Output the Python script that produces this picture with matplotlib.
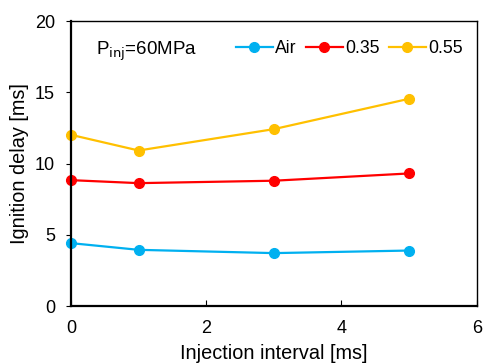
import matplotlib
matplotlib.use('Agg')
import matplotlib.pyplot as plt

plt.rcParams['font.family'] = ['Liberation Sans', 'DejaVu Sans']

# data
interval = [0, 1, 3, 5]
labels = ['Air', '0.35', '0.55']
air = [4.42, 3.95, 3.72, 3.9]
o35 = [8.84, 8.63, 8.8, 9.31]
o55 = [12.02, 10.92, 12.42, 14.55]
colors = ['#00B0F0', '#FF0000', '#FFC000']

fig = plt.figure(figsize=(4.83, 3.64), dpi=100)
ax = fig.add_axes([0.147, 0.159, 0.840, 0.783])

for y, lab, c in zip([air, o35, o55], labels, colors):
    ax.plot(interval, y, color=c, lw=1.6, marker='o', ms=7, label=lab, clip_on=False)

ax.set_xlim(0, 6)
ax.set_ylim(0, 20)
ax.set_xticks([0, 2, 4, 6])
ax.set_yticks([0, 5, 10, 15, 20])
ax.tick_params(axis='x', direction='in', length=4, labelsize=13, pad=10)
ax.tick_params(axis='y', direction='out', length=3.5, labelsize=13, pad=8)
for s in ['top', 'right']:
    ax.spines[s].set_linewidth(1.0)
for s in ['left', 'bottom']:
    ax.spines[s].set_linewidth(1.6)

ax.set_xlabel('Injection interval [ms]', fontsize=14.3, labelpad=5)
ax.set_ylabel('Ignition delay [ms]', fontsize=14.3, labelpad=4)

ax.text(0.062, 0.935, r'P$_{\mathrm{inj}}$=60MPa', transform=ax.transAxes,
        fontsize=13.5, va='top', ha='left')
ax.legend(loc='upper right', ncol=3, frameon=False, fontsize=12.7,
          handlelength=2.1, handletextpad=0.15, columnspacing=0.5,
          bbox_to_anchor=(1.005, 0.988))

fig.savefig('out.png', dpi=100)
